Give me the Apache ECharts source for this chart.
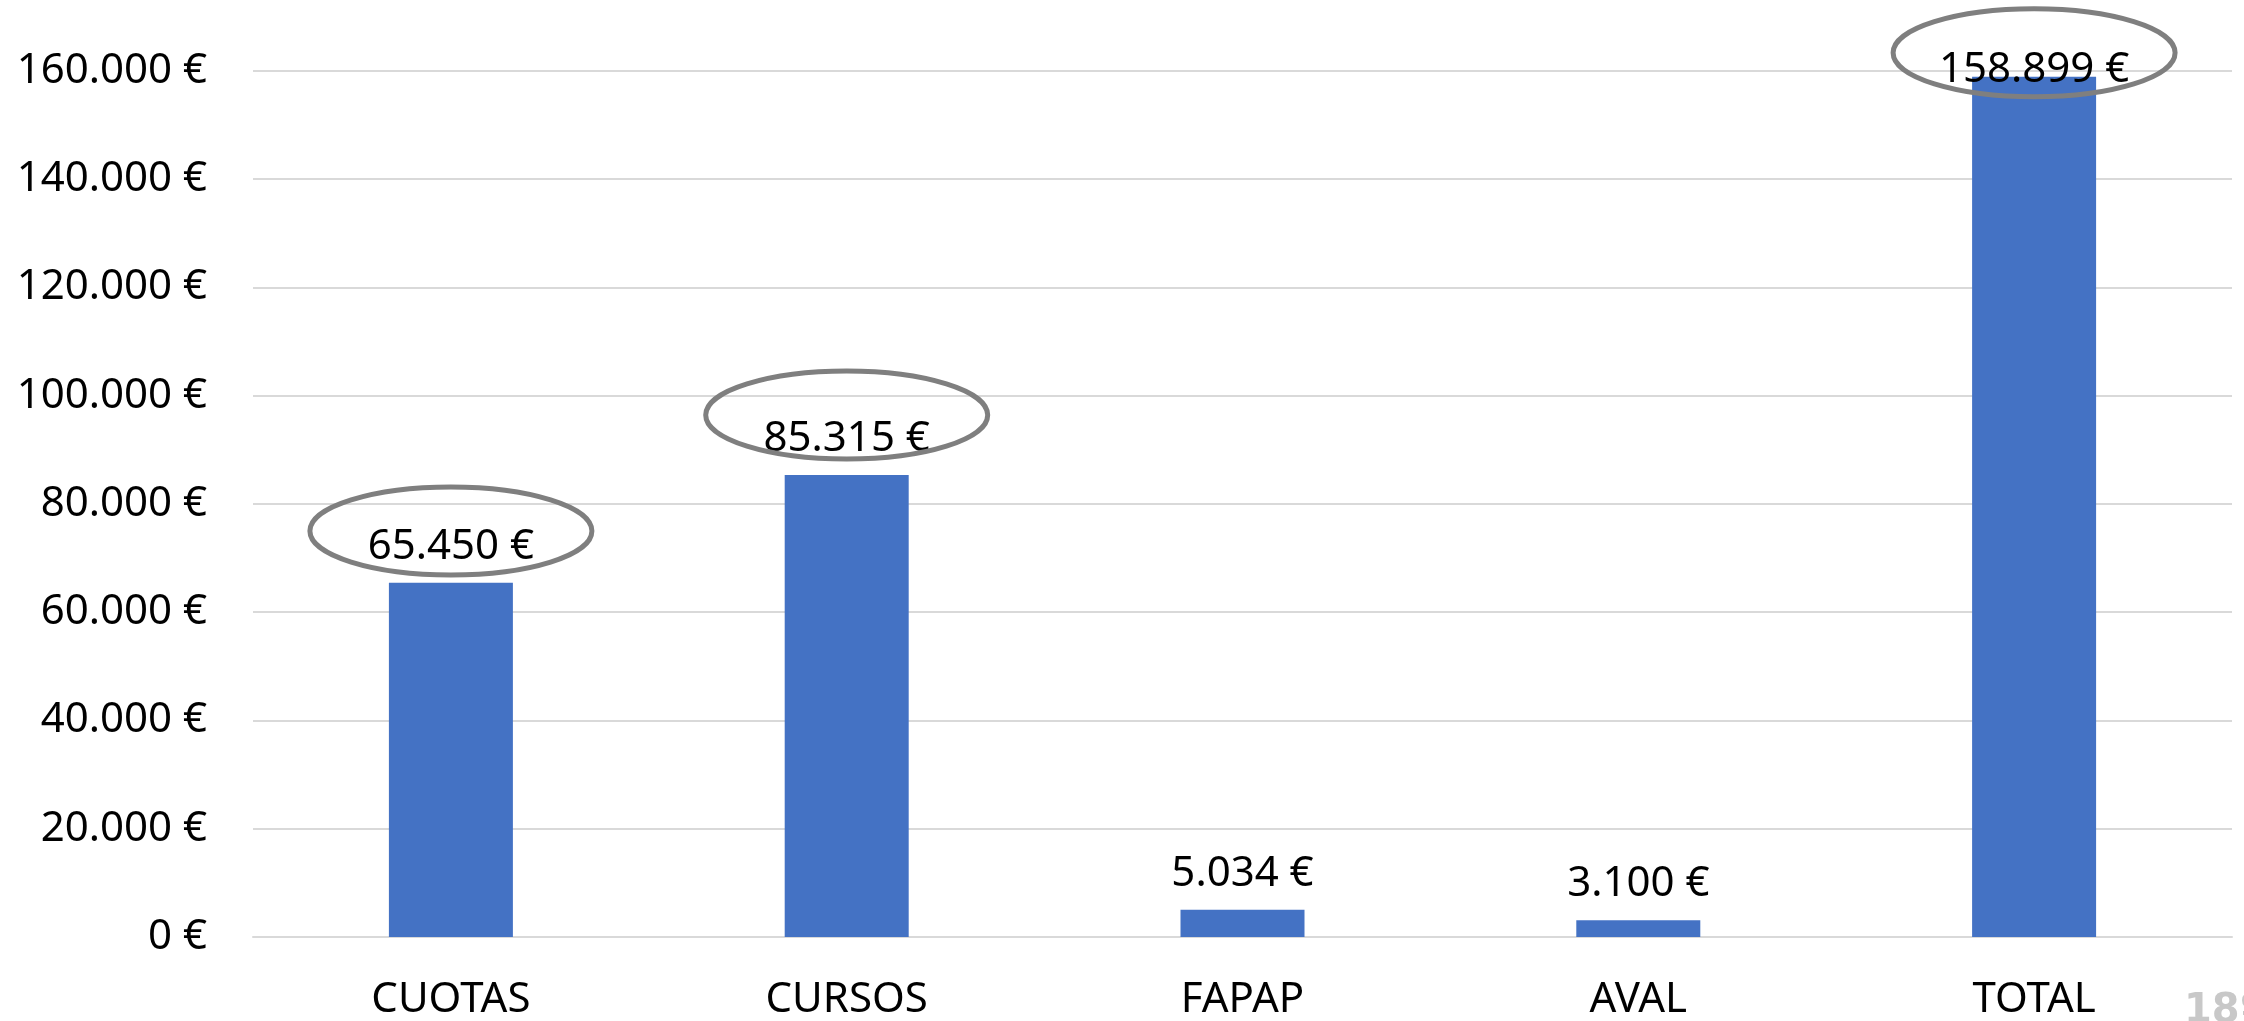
<!DOCTYPE html>
<html>
<head>
<meta charset="utf-8">
<script src="https://cdn.jsdelivr.net/npm/echarts@6/dist/echarts.min.js"></script>
<style>
html,body{margin:0;padding:0;background:#fff;}
#chart{width:2244px;height:1021px;}
</style>
</head>
<body>
<div id="chart"></div>
<script>
// ---- data ----
const categories = ['CUOTAS', 'CURSOS', 'FAPAP', 'AVAL', 'TOTAL'];
const values = [65450, 85315, 5034, 3100, 158899];
const yTicks = [0, 20000, 40000, 60000, 80000, 100000, 120000, 140000, 160000];
// highlighted (circled) bars: category and anchor value of the ellipse centre
const circledCategories = ['CUOTAS', 'CURSOS', 'TOTAL'];
const circledAnchors = [75000, 96400, 163300];

const FONT = '"Noto Sans", "Open Sans", sans-serif';
const fmt = v => String(v).replace(/\B(?=(\d{3})+(?!\d))/g, '.') + ' €';

const chart = echarts.init(document.getElementById('chart'), null, {renderer: 'canvas'});

const barData = values.map((v, i) => {
  const item = {value: v};
  if (i === values.length - 1) {
    item.label = {offset: [0, 29]};
  }
  return item;
});

const ellipseData = circledCategories.map((c, i) => [categories.indexOf(c), circledAnchors[i]]);

chart.setOption({
  animation: false,
  backgroundColor: '#ffffff',
  grid: {left: 253, right: 12, top: 70.7, bottom: 82, containLabel: false},
  xAxis: {
    type: 'category',
    data: categories,
    axisLine: {show: true, lineStyle: {color: '#d9d9d9', width: 2}},
    axisTick: {show: false},
    axisLabel: {
      color: '#000', fontFamily: FONT, fontSize: 42, margin: 42
    }
  },
  yAxis: {
    type: 'value',
    min: yTicks[0],
    max: yTicks[yTicks.length - 1],
    interval: yTicks[1] - yTicks[0],
    axisLine: {show: false},
    axisTick: {show: false},
    splitLine: {lineStyle: {color: '#d9d9d9', width: 2}},
    axisLabel: {
      color: '#000', fontFamily: FONT, fontSize: 42, margin: 46,
      formatter: v => fmt(v)
    }
  },
  series: [
    {
      type: 'bar',
      data: barData,
      barWidth: 124,
      itemStyle: {color: '#4472C4'},
      label: {
        show: true,
        position: 'top',
        distance: 15,
        color: '#000',
        fontFamily: FONT,
        fontSize: 42,
        formatter: p => fmt(p.value)
      },
      z: 2
    },
    {
      type: 'custom',
      data: ellipseData,
      z: 10,
      clip: false,
      silent: true,
      renderItem: (params, api) => {
        const p = api.coord([api.value(0), api.value(1)]);
        return {
          type: 'ellipse',
          shape: {cx: p[0], cy: p[1], rx: 141, ry: 44},
          style: {fill: null, stroke: '#7f7f7f', lineWidth: 5},
          z2: 100
        };
      }
    }
  ],
  graphic: [
    {
      type: 'text',
      left: 2184,
      top: 992,
      z: 100,
      style: {
        text: '18º',
        font: 'bold 40px "DejaVu Sans", sans-serif',
        fill: '#c8c8c8'
      }
    }
  ]
});
</script>
</body>
</html>
